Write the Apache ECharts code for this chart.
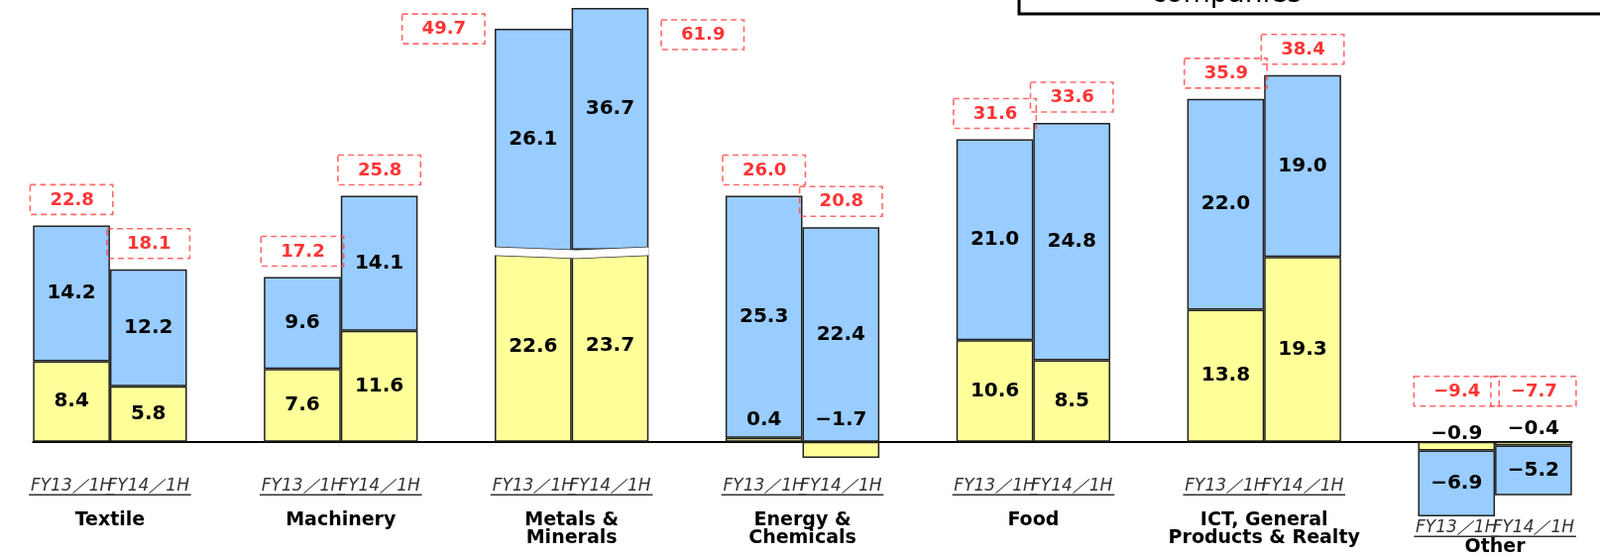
<!DOCTYPE html>
<html><head><meta charset="utf-8">
<script src="https://cdn.jsdelivr.net/npm/echarts@6/dist/echarts.min.js"></script>
<style>html,body{margin:0;padding:0;background:#fff}#c{width:1614px;height:562px}</style>
</head><body><div id="c"></div>
<script>
// ---- data ----
const categories = ['Textile', 'Machinery', 'Metals &\nMinerals', 'Energy &\nChemicals', 'Food', 'ICT, General\nProducts & Realty', 'Other'];
const periods = ['FY13／1H', 'FY14／1H'];
const fy13Yellow = [8.4, 7.6, 22.6, 0.4, 10.6, 13.8, -0.9];
const fy13Blue   = [14.2, 9.6, 26.1, 25.3, 21.0, 22.0, -6.9];
const fy13Total  = [22.8, 17.2, 49.7, 26.0, 31.6, 35.9, -9.4];
const fy14Yellow = [5.8, 11.6, 23.7, -1.7, 8.5, 19.3, -0.4];
const fy14Blue   = [12.2, 14.1, 36.7, 22.4, 24.8, 19.0, -5.2];
const fy14Total  = [18.1, 25.8, 61.9, 20.8, 33.6, 38.4, -7.7];
const brokenCat = 2;          // Metals & Minerals is drawn on a broken axis
const otherCat = 6;           // its labels sit lower, below the negative bars

// ---- layout / style constants ----
const FONT = 'DejaVu Sans';
const YELLOW = '#FFFF99', BLUE = '#99CCFF', EDGE = '#222';
const slotW = 77.62, plotLeft = 33.3, zeroY = 445.7, pxPerUnit = 9.66;
const yMin = -10, yMax = 40;
const breakStart = 19.5, breakEnd = 25.9, breakGapPx = 8, brokenMax = 50.8;

const fmt = v => (v < 0 ? '\u2212' : '') + Math.abs(v).toFixed(1);
const nSlots = categories.length * 3 - 1;
const yearData = [
  {yellow: fy13Yellow, blue: fy13Blue, total: fy13Total},
  {yellow: fy14Yellow, blue: fy14Blue, total: fy14Total}
];
// small-segment label distances (styling)
const smallDist = {'3_0': 8, '3_1': 12, '6_0': -2, '6_1': 3};

// ---- build slot arrays ----
const slotLabels = [], mainYellow = [], mainBlue = [], mainTotals = [];
const metYellow = [], metBlue = [], metTotals = [];
for (let s = 0; s < nSlots; s++) {
  const c = Math.floor(s / 3), p = s % 3;
  if (p === 2) { slotLabels.push(''); mainYellow.push('-'); mainBlue.push('-'); continue; }
  slotLabels.push(periods[p]);
  const d = yearData[p];
  const yv = d.yellow[c], bv = d.blue[c], tv = d.total[c];
  const posTop = Math.max(yv, 0) + Math.max(bv, 0);
  if (c === brokenCat) {
    mainYellow.push('-'); mainBlue.push('-');
    metYellow.push(yv);
    metBlue.push(p === 1 ? {value: bv, label: {offset: [0, -20]}} : bv);
    metTotals.push({
      value: [p, Math.min(posTop, brokenMax)], total: tv,
      label: p === 0 ? {position: 'left', distance: 48.8}
                     : {position: 'right', distance: 51.6, offset: [0, 26.2]}
    });
    continue;
  }
  const key = c + '_' + p;
  if (key in smallDist) {
    mainYellow.push({value: yv, label: {position: 'top', distance: smallDist[key]}});
  } else mainYellow.push(yv);
  mainBlue.push(bv);
  mainTotals.push({value: [s, posTop], total: tv, label: {distance: posTop > 0 ? 11 : 36}});
}

const barLabel = {
  show: true, position: 'inside', color: '#000', fontFamily: FONT, fontWeight: 'bold', fontSize: 20,
  formatter: p => fmt(p.value)
};
const totalLabel = {
  show: true, position: 'top', color: '#FF0000', fontFamily: FONT, fontWeight: 'bold', fontSize: 18,
  lineHeight: 19, padding: [6, 19, 5, 20], borderColor: '#FF4444', borderWidth: 1.6, borderType: [6, 4],
  formatter: p => fmt(p.data.total)
};

const mainTop = zeroY - yMax * pxPerUnit;
const mainH = (yMax - yMin) * pxPerUnit;
const bottomY = zeroY - yMin * pxPerUnit;
const gapUnits = breakGapPx / pxPerUnit;
const ovH = ((brokenMax - yMin) - (breakEnd - breakStart) + gapUnits) * pxPerUnit;

const fyRich = {
  t: {fontFamily: FONT, fontStyle: 'italic', fontSize: 17, color: '#333', lineHeight: 17},
  u: {backgroundColor: '#333', height: 1.5, width: 86}
};
const nameRich = {n: {fontFamily: FONT, fontWeight: 'bold', fontSize: 19, color: '#000', lineHeight: 18}};
const fyAxis = (lower, margin) => ({
  gridIndex: 0, type: 'category', data: slotLabels, position: 'bottom',
  axisLine: {show: !lower, onZero: true, lineStyle: {color: '#000', width: 2}},
  axisTick: {show: false},
  axisLabel: {
    interval: 0, hideOverlap: false, margin: margin,
    formatter: (v, i) => {
      if (!v || ((Math.floor(i / 3) === otherCat) !== lower)) return '';
      return '{t|' + v + '}\n{u|}';
    },
    rich: fyRich
  }
});
const nameAxis = (cats, margin) => ({
  gridIndex: 0, type: 'value', min: -0.5, max: nSlots - 0.5, position: 'bottom',
  axisLine: {show: false, onZero: true}, axisTick: {show: false}, splitLine: {show: false},
  axisLabel: {
    show: true, margin: margin, customValues: cats.map(c => c * 3 + 0.5),
    formatter: v => {
      const name = categories[Math.round(v - 0.5) / 3];
      return name === undefined ? '' : name.split('\n').map(l => '{n|' + l + '}').join('\n');
    },
    rich: nameRich
  }
});
const normalCats = categories.map((_, c) => c).filter(c => c !== otherCat);

const option = {
  animation: false,
  backgroundColor: '#fff',
  grid: [
    {left: plotLeft, top: mainTop, width: slotW * nSlots, height: mainH, outerBoundsMode: 'none', containLabel: false},
    {left: plotLeft + brokenCat * 3 * slotW, top: bottomY - ovH, width: 2 * slotW, height: ovH, outerBoundsMode: 'none', containLabel: false}
  ],
  xAxis: [
    fyAxis(false, -60.7),
    fyAxis(true, -18.7),
    nameAxis(normalCats, -25.8),
    nameAxis([otherCat], 0.5),
    {gridIndex: 1, type: 'category', data: periods, show: false}
  ],
  yAxis: [
    {gridIndex: 0, type: 'value', min: yMin, max: yMax, show: false},
    {
      gridIndex: 1, type: 'value', min: yMin, max: brokenMax, z: 10,
      breaks: [{start: breakStart, end: breakEnd, gap: gapUnits}],
      breakArea: {
        show: true, expandOnClick: false,
        itemStyle: {color: '#fff', borderColor: '#333', borderWidth: 1.5, borderType: 'solid', opacity: 1},
        zigzagAmplitude: 3, zigzagMinSpan: 40, zigzagMaxSpan: 90, zigzagZ: 100
      },
      axisLine: {show: false}, axisTick: {show: false}, axisLabel: {show: false}, splitLine: {show: false}
    }
  ],
  series: [
    {name: 'yellow', type: 'bar', xAxisIndex: 0, yAxisIndex: 0, stack: 'main', barWidth: '100%',
      data: mainYellow, itemStyle: {color: YELLOW, borderColor: EDGE, borderWidth: 1.5}, label: barLabel},
    {name: 'blue', type: 'bar', xAxisIndex: 0, yAxisIndex: 0, stack: 'main', barWidth: '100%',
      data: mainBlue, itemStyle: {color: BLUE, borderColor: EDGE, borderWidth: 1.5}, label: barLabel},
    {name: 'total', type: 'scatter', xAxisIndex: 0, yAxisIndex: 0, symbolSize: 0, clip: false, z: 5,
      data: mainTotals, label: totalLabel},
    {name: 'yellowM', type: 'bar', xAxisIndex: 4, yAxisIndex: 1, stack: 'met', barWidth: '100%',
      data: metYellow, itemStyle: {color: YELLOW, borderColor: EDGE, borderWidth: 1.5}, label: barLabel},
    {name: 'blueM', type: 'bar', xAxisIndex: 4, yAxisIndex: 1, stack: 'met', barWidth: '100%',
      data: metBlue, itemStyle: {color: BLUE, borderColor: EDGE, borderWidth: 1.5}, label: barLabel},
    {name: 'totalM', type: 'scatter', xAxisIndex: 4, yAxisIndex: 1, symbolSize: 0, clip: false, z: 5,
      data: metTotals, label: totalLabel}
  ],
  graphic: [
    {type: 'rect', shape: {x: 1028, y: -30, width: 700, height: 44}, style: {fill: '#fff', stroke: '#000', lineWidth: 3}, z: 1},
    {type: 'text', x: 1237, y: -5, style: {text: 'companies', font: '28px "DejaVu Sans"', fill: '#000', align: 'center', verticalAlign: 'middle'}, z: 2}
  ]
};
const chart = echarts.init(document.getElementById('c'));
chart.setOption(option);
</script></body></html>
